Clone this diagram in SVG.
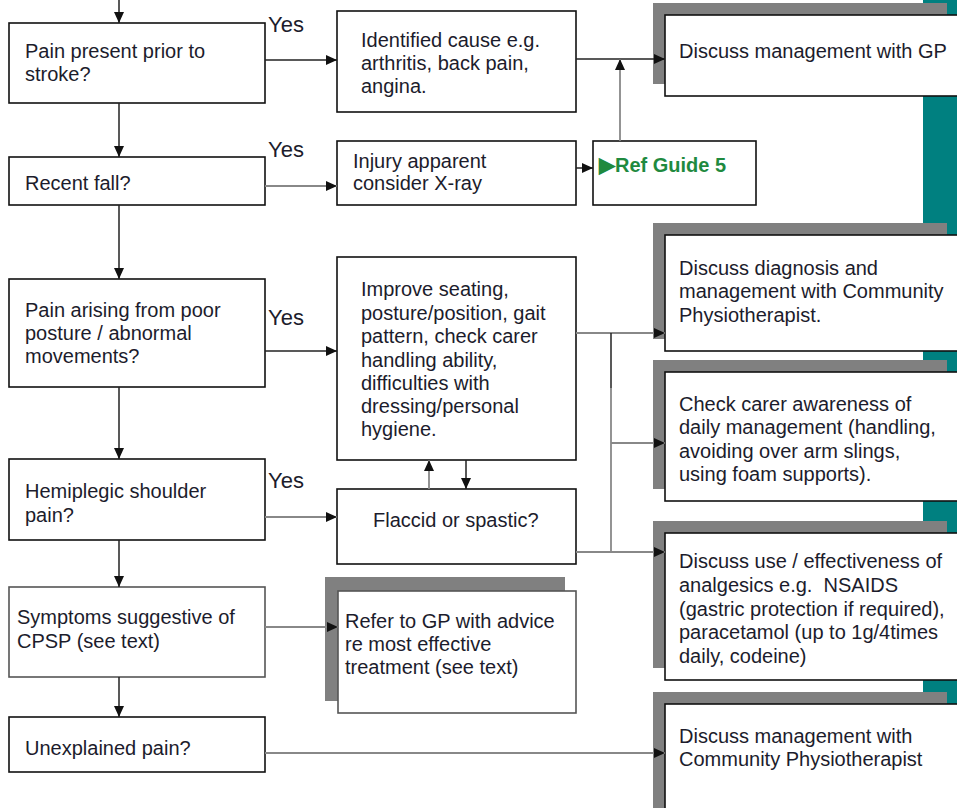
<svg xmlns="http://www.w3.org/2000/svg" width="957" height="808" viewBox="0 0 957 808">
<defs>
<marker id="ah" markerUnits="userSpaceOnUse" markerWidth="12" markerHeight="10" refX="11" refY="5" orient="auto"><path d="M0,0 L11,5 L0,10 z" fill="#111"/></marker>
</defs>
<style>
.box{fill:#fff;stroke:#111;stroke-width:1.6}
.boxg{fill:#fff;stroke:#555;stroke-width:1.6}
.sh{fill:#808080}
.t{font-family:"Liberation Sans",Arial,sans-serif;font-size:20px;fill:#1c1c2c}
.yes{font-family:"Liberation Sans",Arial,sans-serif;font-size:22px;fill:#1c1c2c}
.ref{font-family:"Liberation Sans",Arial,sans-serif;font-size:20px;font-weight:bold;fill:#1f8a3f}
.c{fill:none;stroke:#222;stroke-width:1.5}
.cg{fill:none;stroke:#888;stroke-width:1.8}
</style>
<rect x="923" y="0" width="34" height="705" fill="#008080"/>

<g id="yes-labels">
<text class="yes" x="268" y="32">Yes</text>
<text class="yes" x="268" y="157">Yes</text>
<text class="yes" x="268" y="325">Yes</text>
<text class="yes" x="268" y="488">Yes</text>
</g>

<g id="q1"><rect class="box" x="9" y="23" width="256" height="80"/>
<text class="t" x="25" y="58">Pain present prior to</text><text class="t" x="25" y="81">stroke?</text></g>
<g id="q2"><rect class="box" x="9" y="157" width="256" height="48"/>
<text class="t" x="25" y="190">Recent fall?</text></g>
<g id="q3"><rect class="box" x="9" y="279" width="256" height="108"/>
<text class="t" x="25" y="317">Pain arising from poor</text><text class="t" x="25" y="340">posture / abnormal</text><text class="t" x="25" y="363">movements?</text></g>
<g id="q4"><rect class="box" x="9" y="459" width="256" height="81"/>
<text class="t" x="25" y="498">Hemiplegic shoulder</text><text class="t" x="25" y="522">pain?</text></g>
<g id="q5"><rect class="boxg" x="9" y="587" width="256" height="90"/>
<text class="t" x="17" y="624">Symptoms suggestive of</text><text class="t" x="17" y="648">CPSP (see text)</text></g>
<g id="q6"><rect class="box" x="9" y="717" width="256" height="55"/>
<text class="t" x="25" y="755">Unexplained pain?</text></g>

<g id="identified"><rect class="box" x="337" y="11" width="239" height="101"/>
<text class="t" x="361" y="47">Identified cause e.g.</text><text class="t" x="361" y="70">arthritis, back pain,</text><text class="t" x="361" y="93">angina.</text></g>
<g id="injury"><rect class="box" x="337" y="141" width="239" height="64"/>
<text class="t" x="353" y="168">Injury apparent</text><text class="t" x="353" y="190">consider X-ray</text></g>
<g id="refguide"><rect class="box" x="593" y="141" width="163" height="64"/>
<text class="ref" x="599" y="172"><tspan font-size="21">▶</tspan>Ref Guide 5</text></g>
<g id="improve"><rect class="box" x="337" y="257" width="239" height="203"/>
<text class="t" x="361" y="296">Improve seating,</text><text class="t" x="361" y="320">posture/position, gait</text><text class="t" x="361" y="343">pattern, check carer</text><text class="t" x="361" y="367">handling ability,</text><text class="t" x="361" y="390">difficulties with</text><text class="t" x="361" y="413">dressing/personal</text><text class="t" x="361" y="436">hygiene.</text></g>
<g id="flaccid"><rect class="box" x="337" y="489" width="239" height="75"/>
<text class="t" x="373" y="527">Flaccid or spastic?</text></g>
<g id="refergp"><rect class="sh" x="325" y="577" width="240" height="124"/><rect class="boxg" x="338" y="591" width="238" height="122"/>
<text class="t" x="345" y="628">Refer to GP with advice</text><text class="t" x="345" y="651">re most effective</text><text class="t" x="345" y="674">treatment (see text)</text></g>

<g id="gp"><rect class="sh" x="653" y="3" width="294" height="81"/><rect class="box" x="665" y="15" width="300" height="81"/>
<text class="t" x="679" y="58">Discuss management with GP</text></g>
<g id="diagnosis"><rect class="sh" x="653" y="223" width="294" height="116"/><rect class="box" x="665" y="235" width="300" height="116"/>
<text class="t" x="679" y="275">Discuss diagnosis and</text><text class="t" x="679" y="298">management with Community</text><text class="t" x="679" y="322">Physiotherapist.</text></g>
<g id="carer"><rect class="sh" x="653" y="360" width="294" height="129"/><rect class="box" x="665" y="372" width="300" height="129"/>
<text class="t" x="679" y="411">Check carer awareness of</text><text class="t" x="679" y="434">daily management (handling,</text><text class="t" x="679" y="458">avoiding over arm slings,</text><text class="t" x="679" y="481">using foam supports).</text></g>
<g id="analgesics"><rect class="sh" x="653" y="521" width="294" height="147"/><rect class="box" x="665" y="533" width="300" height="147"/>
<text class="t" x="679" y="568" xml:space="preserve">Discuss use / effectiveness of</text><text class="t" x="679" y="592" xml:space="preserve">analgesics e.g.  NSAIDS</text><text class="t" x="679" y="616">(gastric protection if required),</text><text class="t" x="679" y="639">paracetamol (up to 1g/4times</text><text class="t" x="679" y="663">daily, codeine)</text></g>
<g id="physio"><rect class="sh" x="653" y="692" width="294" height="130"/><rect class="box" x="665" y="704" width="300" height="130"/>
<text class="t" x="679" y="743">Discuss management with</text><text class="t" x="679" y="766">Community Physiotherapist</text></g>

<g id="connectors">
<path class="c" d="M119,0 V23" marker-end="url(#ah)"/>
<path class="c" d="M119,103 V157" marker-end="url(#ah)"/>
<path class="c" d="M119,205 V279" marker-end="url(#ah)"/>
<path class="c" d="M119,387 V459" marker-end="url(#ah)"/>
<path class="c" d="M119,540 V587" marker-end="url(#ah)"/>
<path class="c" d="M119,677 V717" marker-end="url(#ah)"/>
<path class="c" d="M265,60 H337" marker-end="url(#ah)"/>
<path class="c" d="M576,59 H665" marker-end="url(#ah)"/>
<path class="cg" d="M620,141 V59" marker-end="url(#ah)"/>
<path class="cg" d="M265,186 H337" marker-end="url(#ah)"/>
<path class="c" d="M576,168 H593" marker-end="url(#ah)"/>
<path class="c" d="M265,351 H337" marker-end="url(#ah)"/>
<path class="cg" d="M576,333 H665" marker-end="url(#ah)"/>
<path class="c" d="M611,333 V388"/>
<path class="cg" d="M611,388 V552"/>
<path class="cg" d="M611,443 H665" marker-end="url(#ah)"/>
<path class="cg" d="M576,552 H665" marker-end="url(#ah)"/>
<path class="cg" d="M429,489 V460" marker-end="url(#ah)"/>
<path class="c" d="M466,460 V489" marker-end="url(#ah)"/>
<path class="cg" d="M265,517 H337" marker-end="url(#ah)"/>
<path class="cg" d="M265,627 H338" marker-end="url(#ah)"/>
<path class="cg" d="M265,753 H665" marker-end="url(#ah)"/>
</g>
</svg>
